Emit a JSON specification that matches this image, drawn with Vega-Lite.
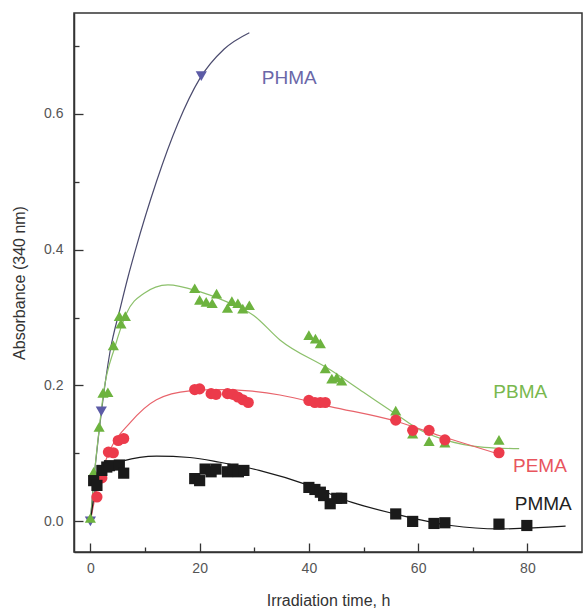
{
  "$schema": "https://vega.github.io/schema/vega-lite/v6.json",
  "width": 508,
  "height": 539,
  "autosize": {"type": "none"},
  "padding": {"left": 74, "top": 13, "right": 1, "bottom": 64},
  "background": "white",
  "config": {
    "view": {"stroke": "#333", "strokeWidth": 1.5},
    "font": "Liberation Sans",
    "axis": {"grid": false, "domainColor": "#333", "tickColor": "#333", "domainWidth": 1.5, "tickWidth": 1.3, "labelFont": "Liberation Sans", "titleFont": "Liberation Sans", "labelColor": "#555", "titleColor": "#333", "labelFontSize": 14, "titleFontSize": 16, "titleFontWeight": "normal"}
  },
  "datasets": {
    "curves": [
      {"series": "PHMA", "t": 0, "a": 0},
      {"series": "PHMA", "t": 0.5, "a": 0.05},
      {"series": "PHMA", "t": 1, "a": 0.09},
      {"series": "PHMA", "t": 2, "a": 0.16},
      {"series": "PHMA", "t": 3.6, "a": 0.25},
      {"series": "PHMA", "t": 5.5, "a": 0.315},
      {"series": "PHMA", "t": 6.9, "a": 0.36},
      {"series": "PHMA", "t": 8.2, "a": 0.398},
      {"series": "PHMA", "t": 12.1, "a": 0.5},
      {"series": "PHMA", "t": 16, "a": 0.585},
      {"series": "PHMA", "t": 20, "a": 0.651},
      {"series": "PHMA", "t": 24.5, "a": 0.695},
      {"series": "PHMA", "t": 29.1, "a": 0.719},
      {"series": "PBMA", "t": 0, "a": 0},
      {"series": "PBMA", "t": 0.8, "a": 0.075},
      {"series": "PBMA", "t": 1.6, "a": 0.135},
      {"series": "PBMA", "t": 2.4, "a": 0.189},
      {"series": "PBMA", "t": 4.5, "a": 0.257},
      {"series": "PBMA", "t": 6.6, "a": 0.306},
      {"series": "PBMA", "t": 9.7, "a": 0.335},
      {"series": "PBMA", "t": 14.2, "a": 0.348},
      {"series": "PBMA", "t": 20, "a": 0.338},
      {"series": "PBMA", "t": 25, "a": 0.323},
      {"series": "PBMA", "t": 29.9, "a": 0.303},
      {"series": "PBMA", "t": 34.7, "a": 0.267},
      {"series": "PBMA", "t": 43.9, "a": 0.223},
      {"series": "PBMA", "t": 50, "a": 0.19},
      {"series": "PBMA", "t": 56.1, "a": 0.157},
      {"series": "PBMA", "t": 60, "a": 0.136},
      {"series": "PBMA", "t": 64.5, "a": 0.121},
      {"series": "PBMA", "t": 72.1, "a": 0.109},
      {"series": "PBMA", "t": 78.5, "a": 0.107},
      {"series": "PEMA", "t": 0, "a": 0},
      {"series": "PEMA", "t": 0.8, "a": 0.033},
      {"series": "PEMA", "t": 1.8, "a": 0.066},
      {"series": "PEMA", "t": 3.6, "a": 0.105},
      {"series": "PEMA", "t": 7.25, "a": 0.145},
      {"series": "PEMA", "t": 12.1, "a": 0.179},
      {"series": "PEMA", "t": 18.2, "a": 0.192},
      {"series": "PEMA", "t": 24, "a": 0.194},
      {"series": "PEMA", "t": 29, "a": 0.192},
      {"series": "PEMA", "t": 34.7, "a": 0.186},
      {"series": "PEMA", "t": 43.9, "a": 0.169},
      {"series": "PEMA", "t": 56.1, "a": 0.147},
      {"series": "PEMA", "t": 64, "a": 0.126},
      {"series": "PEMA", "t": 74.8, "a": 0.099},
      {"series": "PMMA", "t": 0, "a": 0},
      {"series": "PMMA", "t": 0.9, "a": 0.046},
      {"series": "PMMA", "t": 2.4, "a": 0.07},
      {"series": "PMMA", "t": 6, "a": 0.089},
      {"series": "PMMA", "t": 12.1, "a": 0.096},
      {"series": "PMMA", "t": 18.2, "a": 0.094},
      {"series": "PMMA", "t": 23.7, "a": 0.087},
      {"series": "PMMA", "t": 30.9, "a": 0.075},
      {"series": "PMMA", "t": 40, "a": 0.053},
      {"series": "PMMA", "t": 47.9, "a": 0.028},
      {"series": "PMMA", "t": 55.8, "a": 0.011},
      {"series": "PMMA", "t": 66, "a": -0.006},
      {"series": "PMMA", "t": 74.8, "a": -0.011},
      {"series": "PMMA", "t": 87, "a": -0.007}
    ],
    "points": [
      {"series": "PHMA", "t": 0, "a": 0},
      {"series": "PHMA", "t": 2, "a": 0.162},
      {"series": "PHMA", "t": 20.3, "a": 0.655},
      {"series": "PBMA", "t": 0, "a": 0.005},
      {"series": "PBMA", "t": 0.6, "a": 0.073},
      {"series": "PBMA", "t": 1.6, "a": 0.139},
      {"series": "PBMA", "t": 2.3, "a": 0.189},
      {"series": "PBMA", "t": 3.2, "a": 0.19},
      {"series": "PBMA", "t": 4.2, "a": 0.259},
      {"series": "PBMA", "t": 5.3, "a": 0.302},
      {"series": "PBMA", "t": 5.6, "a": 0.291},
      {"series": "PBMA", "t": 6.4, "a": 0.302},
      {"series": "PBMA", "t": 19.1, "a": 0.343},
      {"series": "PBMA", "t": 20, "a": 0.326},
      {"series": "PBMA", "t": 21.2, "a": 0.323},
      {"series": "PBMA", "t": 22.3, "a": 0.321},
      {"series": "PBMA", "t": 23.1, "a": 0.335},
      {"series": "PBMA", "t": 25.1, "a": 0.314},
      {"series": "PBMA", "t": 25.9, "a": 0.324},
      {"series": "PBMA", "t": 27, "a": 0.321},
      {"series": "PBMA", "t": 27.9, "a": 0.313},
      {"series": "PBMA", "t": 29.1, "a": 0.318},
      {"series": "PBMA", "t": 40, "a": 0.274},
      {"series": "PBMA", "t": 41.2, "a": 0.269},
      {"series": "PBMA", "t": 42.1, "a": 0.262},
      {"series": "PBMA", "t": 43, "a": 0.225},
      {"series": "PBMA", "t": 44.2, "a": 0.21},
      {"series": "PBMA", "t": 45.1, "a": 0.212},
      {"series": "PBMA", "t": 46, "a": 0.207},
      {"series": "PBMA", "t": 55.9, "a": 0.163},
      {"series": "PBMA", "t": 59, "a": 0.129},
      {"series": "PBMA", "t": 62, "a": 0.118},
      {"series": "PBMA", "t": 64.9, "a": 0.116},
      {"series": "PBMA", "t": 74.8, "a": 0.12},
      {"series": "PEMA", "t": 1.2, "a": 0.036},
      {"series": "PEMA", "t": 2.1, "a": 0.064},
      {"series": "PEMA", "t": 3.3, "a": 0.102},
      {"series": "PEMA", "t": 4.2, "a": 0.101},
      {"series": "PEMA", "t": 5.1, "a": 0.119},
      {"series": "PEMA", "t": 6.1, "a": 0.122},
      {"series": "PEMA", "t": 19.1, "a": 0.194},
      {"series": "PEMA", "t": 20, "a": 0.195},
      {"series": "PEMA", "t": 22.1, "a": 0.188},
      {"series": "PEMA", "t": 23, "a": 0.187},
      {"series": "PEMA", "t": 25.1, "a": 0.188},
      {"series": "PEMA", "t": 26.1, "a": 0.187},
      {"series": "PEMA", "t": 27, "a": 0.183},
      {"series": "PEMA", "t": 27.9, "a": 0.179},
      {"series": "PEMA", "t": 28.9, "a": 0.175},
      {"series": "PEMA", "t": 40, "a": 0.178},
      {"series": "PEMA", "t": 41.1, "a": 0.175},
      {"series": "PEMA", "t": 42.1, "a": 0.175},
      {"series": "PEMA", "t": 43, "a": 0.175},
      {"series": "PEMA", "t": 55.9, "a": 0.149},
      {"series": "PEMA", "t": 59, "a": 0.134},
      {"series": "PEMA", "t": 62, "a": 0.134},
      {"series": "PEMA", "t": 64.9, "a": 0.12},
      {"series": "PEMA", "t": 74.8, "a": 0.101},
      {"series": "PMMA", "t": 0.6, "a": 0.06},
      {"series": "PMMA", "t": 1.2, "a": 0.053},
      {"series": "PMMA", "t": 2.1, "a": 0.075},
      {"series": "PMMA", "t": 3, "a": 0.08},
      {"series": "PMMA", "t": 3.5, "a": 0.082},
      {"series": "PMMA", "t": 5.3, "a": 0.083},
      {"series": "PMMA", "t": 6.1, "a": 0.071},
      {"series": "PMMA", "t": 19.1, "a": 0.063},
      {"series": "PMMA", "t": 20, "a": 0.06},
      {"series": "PMMA", "t": 21, "a": 0.077},
      {"series": "PMMA", "t": 22.1, "a": 0.073},
      {"series": "PMMA", "t": 23, "a": 0.077},
      {"series": "PMMA", "t": 25.1, "a": 0.073},
      {"series": "PMMA", "t": 26.1, "a": 0.077},
      {"series": "PMMA", "t": 27.1, "a": 0.073},
      {"series": "PMMA", "t": 28.1, "a": 0.075},
      {"series": "PMMA", "t": 40, "a": 0.05},
      {"series": "PMMA", "t": 41.1, "a": 0.047},
      {"series": "PMMA", "t": 42.1, "a": 0.043},
      {"series": "PMMA", "t": 42.7, "a": 0.038},
      {"series": "PMMA", "t": 43.9, "a": 0.026},
      {"series": "PMMA", "t": 45.1, "a": 0.034},
      {"series": "PMMA", "t": 46, "a": 0.034},
      {"series": "PMMA", "t": 55.9, "a": 0.011},
      {"series": "PMMA", "t": 59, "a": 0.0},
      {"series": "PMMA", "t": 62.9, "a": -0.003},
      {"series": "PMMA", "t": 64.9, "a": -0.002},
      {"series": "PMMA", "t": 74.8, "a": -0.004},
      {"series": "PMMA", "t": 79.9, "a": -0.006}
    ],
    "labels": [
      {"series": "PHMA", "t": 36.4, "a": 0.652},
      {"series": "PBMA", "t": 78.7, "a": 0.19},
      {"series": "PEMA", "t": 82.3, "a": 0.082},
      {"series": "PMMA", "t": 82.9, "a": 0.026}
    ]
  },
  "resolve": {"scale": {"color": "independent", "shape": "independent"}, "axis": {"x": "independent", "y": "independent"}},
  "layer": [
    {
      "data": {"name": "curves"},
      "mark": {"type": "line", "interpolate": "monotone", "strokeWidth": 1.2, "clip": true},
      "encoding": {
        "x": {"field": "t", "type": "quantitative", "scale": {"domain": [-3, 90], "nice": false, "zero": false},
          "axis": {"orient": "bottom", "values": [0, 20, 40, 60, 80], "tickSize": -9, "labelPadding": 18, "title": "Irradiation time, h", "titlePadding": 17}},
        "y": {"field": "a", "type": "quantitative", "scale": {"domain": [-0.045, 0.748], "nice": false, "zero": false},
          "axis": {"orient": "left", "values": [0, 0.2, 0.4, 0.6], "format": ".1f", "tickSize": -9, "labelPadding": 20, "title": "Absorbance (340 nm)", "titlePadding": 16}},
        "color": {"field": "series", "type": "nominal", "legend": null,
          "scale": {"domain": ["PHMA", "PBMA", "PEMA", "PMMA"], "range": ["#4b4b6e", "#8cc06b", "#e8636b", "#1a1a1a"]}},
        "detail": {"field": "series"}
      }
    },
    {
      "data": {"name": "points"},
      "mark": {"type": "point", "filled": true, "opacity": 1, "size": 125},
      "encoding": {
        "x": {"field": "t", "type": "quantitative", "scale": {"domain": [-3, 90], "nice": false, "zero": false},
          "axis": {"orient": "bottom", "values": [10, 30, 50, 70], "tickSize": -5, "labels": false, "domain": false, "title": null}},
        "y": {"field": "a", "type": "quantitative", "scale": {"domain": [-0.045, 0.748], "nice": false, "zero": false},
          "axis": {"orient": "left", "values": [0.1, 0.3, 0.5, 0.7], "tickSize": -5, "labels": false, "domain": false, "title": null}},
        "color": {"field": "series", "type": "nominal", "legend": null,
          "scale": {"domain": ["PHMA", "PBMA", "PEMA", "PMMA"], "range": ["#5c5ba6", "#6db33f", "#ec3b4b", "#1a1a1a"]}},
        "shape": {"field": "series", "type": "nominal", "legend": null,
          "scale": {"domain": ["PHMA", "PBMA", "PEMA", "PMMA"], "range": ["triangle-down", "triangle-up", "circle", "square"]}}
      }
    },
    {
      "data": {"name": "labels"},
      "mark": {"type": "text", "font": "Liberation Sans", "fontSize": 19, "align": "center", "baseline": "middle"},
      "encoding": {
        "x": {"field": "t", "type": "quantitative", "scale": {"domain": [-3, 90], "nice": false, "zero": false}, "axis": null},
        "y": {"field": "a", "type": "quantitative", "scale": {"domain": [-0.045, 0.748], "nice": false, "zero": false}, "axis": null},
        "text": {"field": "series"},
        "color": {"field": "series", "type": "nominal", "legend": null,
          "scale": {"domain": ["PHMA", "PBMA", "PEMA", "PMMA"], "range": ["#6a67a8", "#79b84e", "#e8555e", "#222222"]}}
      }
    }
  ]
}
